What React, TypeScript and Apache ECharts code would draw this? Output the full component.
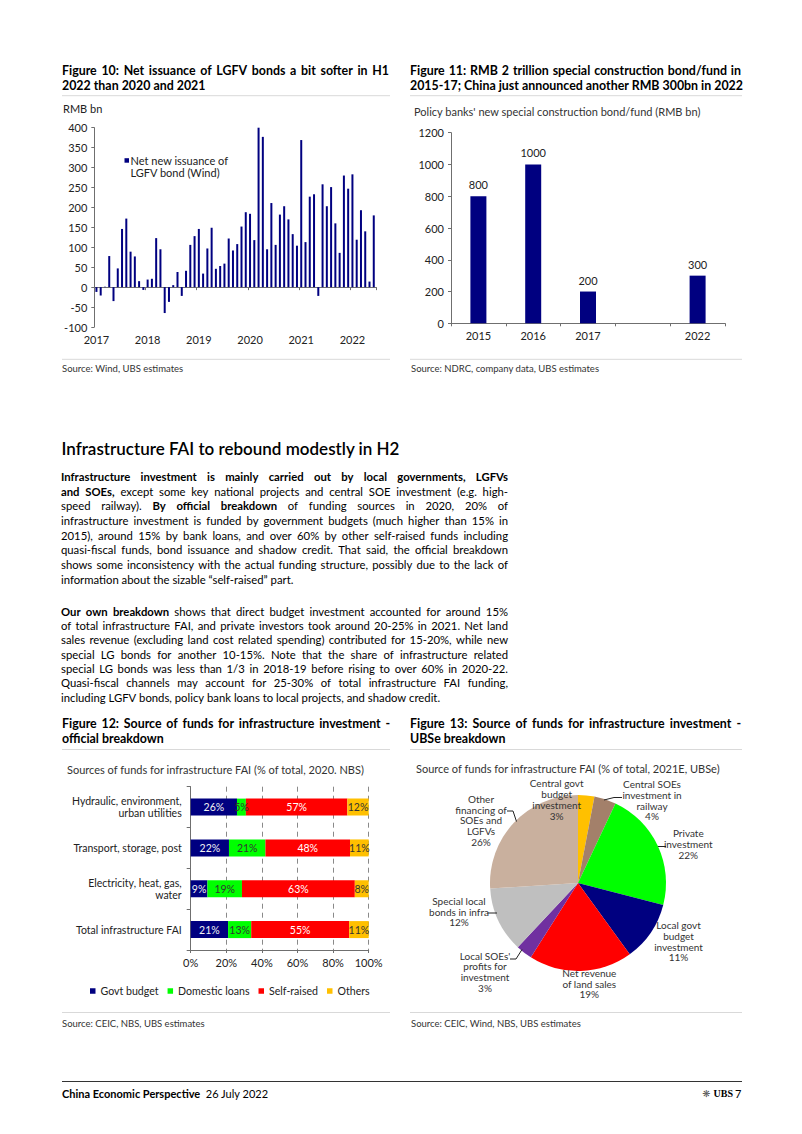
import React, { useEffect, useRef } from 'react';
import * as echarts from 'echarts';

const FONT = 'Lato, "Liberation Sans", sans-serif';
const NAVY = '#000080';
const AXIS = '#6f6f6f';
const LABEL = '#222';

// ---------- Figure 10: net issuance of LGFV bonds (RMB bn, monthly) ----------
const lgfvYears = ['2017', '2018', '2019', '2020', '2021', '2022'];
const monthCodes = ['01', '02', '03', '04', '05', '06', '07', '08', '09', '10', '11', '12'];
const lgfvMonths = lgfvYears.flatMap((y) => monthCodes.map((m) => `${y}-${m}`)).slice(0, 66);
const lgfvNetIssuance = [
  -12, -21, 1, 78, -35, 47, 146, 172, 89, 77, 15, -7,
  19, 21, 123, 95, -65, -37, 5, 38, -22, 41, 106, 128,
  146, 34, 97, 149, 46, 53, 59, 122, 92, 108, 152, 188,
  184, 118, 400, 377, 95, 211, 106, 182, 203, 170, 133, 104,
  369, 113, 227, 233, -22, 258, 203, 251, 160, 86, 280, 247,
  283, 119, 193, 140, 14, 180,
];
const lgfvSeriesName = 'Net new issuance of LGFV bond (Wind)';

// ---------- Figure 11: special construction bond/fund ----------
const specialYears = ['2015', '2016', '2017', '', '2022'];
const specialValues = [800, 1000, 200, null, 300];

// ---------- Figure 12: official breakdown ----------
const fundCategories = [
  'Hydraulic, environment,\nurban utilities',
  'Transport, storage, post',
  'Electricity, heat, gas,\nwater',
  'Total infrastructure FAI',
];
const govtBudget = [26, 21.5, 9.4, 21];
const domesticLoans = [5, 20.5, 19.4, 13];
const selfRaised = [57, 47.5, 63.4, 55];
const othersShare = [12, 10.5, 7.8, 11];
const fundSeriesNames = ['Govt budget', 'Domestic loans', 'Self-raised', 'Others'];
const fundColors = [NAVY, '#00FF00', '#FF0000', '#FFC000'];
const fundLabelColors = ['#f2f2f2', '#333', '#fff', '#333'];

// ---------- Figure 13: UBSe breakdown ----------
const pieNames = [
  'Central govt\nbudget\ninvestment',
  'Central SOEs\ninvestment in\nrailway',
  'Private\ninvestment',
  'Local govt\nbudget\ninvestment',
  'Net revenue\nof land sales',
  "Local SOEs'\nprofits for\ninvestment",
  'Special local\nbonds in infra',
  'Other\nfinancing of\nSOEs and\nLGFVs',
];
const pieValues = [3, 4, 22, 11, 19, 3, 12, 26];
const pieColors = ['#FFC000', '#A3806A', '#00FF00', NAVY, '#FF0000', '#7030A0', '#BFBFBF', '#C9B09E'];

// label placement (layout only)
const PIE_LABEL_XY = [
  [556.7, 799.5],
  [652, 800.3],
  [688.3, 844],
  [678.5, 941.2],
  [589.3, 983.5],
  [485, 971.8],
  [459, 911.7],
  [481, 820.3],
];
const PIE_LEADERS = [
  [[604, 800], [614, 797.5], [622, 797.5]],
  [[658, 846.5], [666, 846.5]],
  [[522, 949.5], [516, 959], [510, 959]],
  [[497, 913], [487.5, 913]],
  [[516.5, 821.5], [513, 811], [507, 811]],
];

// ---------- Text ----------
const para1Lines = [
  '{b|Infrastructure investment is mainly carried out by local governments, LGFVs}',
  '{b|and SOEs,} except some key national projects and central SOE investment (e.g. high-',
  'speed railway). {b|By official breakdown} of funding sources in 2020, 20% of',
  'infrastructure investment is funded by government budgets (much higher than 15% in',
  '2015), around 15% by bank loans, and over 60% by other self-raised funds including',
  'quasi-fiscal funds, bond issuance and shadow credit. That said, the official breakdown',
  'shows some inconsistency with the actual funding structure, possibly due to the lack of',
  'information about the sizable \u201cself-raised\u201d part.',
];
const para2Lines = [
  '{b|Our own breakdown} shows that direct budget investment accounted for around 15%',
  'of total infrastructure FAI, and private investors took around 20-25% in 2021. Net land',
  'sales revenue (excluding land cost related spending) contributed for 15-20%, while new',
  'special LG bonds for another 10-15%. Note that the share of infrastructure related',
  'special LG bonds was less than 1/3 in 2018-19 before rising to over 60% in 2020-22.',
  'Quasi-fiscal channels may account for 25-30% of total infrastructure FAI funding,',
  'including LGFV bonds, policy bank loans to local projects, and shadow credit.',
];

function txt(x: number, y: number, text: string, o: any = {}) {
  return {
    type: 'text',
    x,
    y,
    z: 20,
    silent: true,
    style: {
      text,
      fill: o.fill || '#000',
      fontSize: o.fontSize || 11,
      fontFamily: o.fontFamily || FONT,
      fontWeight: o.fontWeight || 'normal',
      align: o.align || 'left',
      verticalAlign: 'middle',
      rich: o.rich,
    },
  };
}
function hline(x1: number, x2: number, y: number, stroke = '#d9d9d9', w = 1) {
  return { type: 'line', z: 20, silent: true, shape: { x1, y1: y, x2, y2: y }, style: { stroke, lineWidth: w } };
}

type Seg = { t: string; b: boolean };
function parseRich(line: string, allBold = false): Seg[] {
  const out: Seg[] = [];
  const re = /\{b\|([^}]*)\}/g;
  let last = 0;
  let m: RegExpExecArray | null;
  while ((m = re.exec(line))) {
    if (m.index > last) out.push({ t: line.slice(last, m.index), b: allBold });
    out.push({ t: m[1], b: true });
    last = m.index + m[0].length;
  }
  if (last < line.length) out.push({ t: line.slice(last), b: allBold });
  return out;
}

let measureCtx: CanvasRenderingContext2D | null = null;
function measure(s: string, bold: boolean, size: number) {
  if (!measureCtx) measureCtx = document.createElement('canvas').getContext('2d');
  if (!measureCtx) return s.length * size * 0.45;
  measureCtx.font = `${bold ? 'bold' : 'normal'} ${size}px ${FONT}`;
  return measureCtx.measureText(s).width;
}

// lays out one line as words, justified to width when justify is true
function justifiedLine(line: string, x0: number, y: number, width: number, size: number, justify: boolean, allBold = false) {
  const segs = parseRich(line, allBold);
  const words: Seg[] = [];
  segs.forEach((s) => s.t.split(' ').forEach((w) => { if (w) words.push({ t: w, b: s.b }); }));
  const widths = words.map((w) => measure(w.t, w.b, size));
  const total = widths.reduce((a, b) => a + b, 0);
  const space = measure(' ', false, size);
  const gap = justify && words.length > 1 ? Math.max(space, (width - total) / (words.length - 1)) : space;
  const els: any[] = [];
  let x = x0;
  words.forEach((w, i) => {
    els.push(txt(x, y, w.t, { fontSize: size, fontWeight: w.b ? 'bold' : 'normal' }));
    x += widths[i] + gap;
  });
  return els;
}

export default function App() {
  const ref = useRef<HTMLDivElement>(null);

  useEffect(() => {
    if (!ref.current) return;
    const chart = echarts.init(ref.current, undefined, { renderer: 'svg' });

    const boldRich = { b: { fontWeight: 'bold', fontSize: 11, fontFamily: FONT, fill: '#000' } };
    const T = 12.4;

    const graphics: any[] = [
      // Figure titles (first lines justified)
      ...justifiedLine('Figure 10: Net issuance of LGFV bonds a bit softer in H1', 62, 70, 327, T, true, true),
      txt(62, 85.5, '2022 than 2020 and 2021', { fontWeight: 'bold', fontSize: T }),
      ...justifiedLine('Figure 11: RMB 2 trillion special construction bond/fund in', 410, 70, 331, T, true, true),
      txt(410, 85.5, '2015-17; China just announced another RMB 300bn in 2022', { fontWeight: 'bold', fontSize: T }),
      ...justifiedLine('Figure 12: Source of funds for infrastructure investment -', 62, 723, 328, T, true, true),
      txt(62, 738.5, 'official breakdown', { fontWeight: 'bold', fontSize: T }),
      ...justifiedLine('Figure 13: Source of funds for infrastructure investment -', 410, 723, 331, T, true, true),
      txt(410, 738.5, 'UBSe breakdown', { fontWeight: 'bold', fontSize: T }),
      hline(62, 390, 95.7),
      hline(410, 742, 95.7),
      hline(62, 390, 359.3),
      hline(410, 742, 359.3),
      hline(62, 390, 749.5),
      hline(410, 742, 749.5),
      hline(62, 390, 1012.5),
      hline(410, 742, 1012.5),
      // Subtitles / units
      txt(63, 108.3, 'RMB bn', { fontSize: 11, fill: LABEL }),
      txt(414, 111.7, "Policy banks' new special construction bond/fund (RMB bn)", { fontSize: 11, fill: '#333' }),
      txt(67, 769, 'Sources of funds for infrastructure FAI (% of total, 2020. NBS)', { fontSize: 11, fill: '#333' }),
      txt(416, 768.3, 'Source of funds for infrastructure FAI (% of total, 2021E, UBSe)', { fontSize: 11, fill: '#333' }),
      // Figure 10 legend
      {
        type: 'rect', z: 20, silent: true,
        shape: { x: 124.5, y: 158.2, width: 4.5, height: 4.5 },
        style: { fill: NAVY },
      },
      txt(130.5, 160.3, 'Net new issuance of', { fontSize: 11, fill: LABEL }),
      txt(130.5, 172.6, 'LGFV bond (Wind)', { fontSize: 11, fill: LABEL }),
      // Sources
      txt(62, 368.3, 'Source: Wind, UBS estimates', { fontSize: 9.5, fill: '#333' }),
      txt(411, 368.3, 'Source: NDRC, company data, UBS estimates', { fontSize: 9.5, fill: '#333' }),
      txt(62, 1023.3, 'Source: CEIC, NBS, UBS estimates', { fontSize: 9.5, fill: '#333' }),
      txt(411, 1023.3, 'Source: CEIC, Wind, NBS, UBS estimates', { fontSize: 9.5, fill: '#333' }),
      // Section heading
      txt(61.5, 448.5, 'Infrastructure FAI to rebound modestly in H2', { fontSize: 17, fontWeight: 600 }),
      // Footer
      hline(62, 742, 1081.5, '#333', 1),
      txt(62, 1093, '{b|China Economic Perspective}  26 July 2022', { fontSize: 11, rich: boldRich }),
      txt(710.5, 1093, '\u274B', { fontSize: 9.5, fill: '#555', align: 'right', fontFamily: '"DejaVu Sans"' }),
      txt(733, 1093, 'UBS', { fontSize: 10, fontWeight: 'bold', align: 'right', fontFamily: '"Liberation Serif", serif' }),
      txt(741.5, 1093, '7', { fontSize: 11, align: 'right' }),
    ];
    const BODY = 11.3;
    para1Lines.forEach((l, i) =>
      graphics.push(...justifiedLine(l, 61, 476.7 + i * 14.62, 447, BODY, i < para1Lines.length - 1))
    );
    para2Lines.forEach((l, i) =>
      graphics.push(...justifiedLine(l, 61, 611.3 + i * 14.33, 447, BODY, i < para2Lines.length - 1))
    );
    PIE_LEADERS.forEach((pts) =>
      graphics.push({
        type: 'polyline', z: 30, silent: true,
        shape: { points: pts },
        style: { stroke: '#222', lineWidth: 1, fill: null },
      })
    );

    const yearTick = (i: number) => i % 12 === 0;

    const option: any = {
      animation: false,
      backgroundColor: '#fff',
      textStyle: { fontFamily: FONT },
      grid: [
        { left: 94.3, top: 127.7, width: 281.6, height: 199.3 },
        { left: 451, top: 132.7, width: 274, height: 190.6 },
        { left: 190.7, top: 786.7, width: 178, height: 163.3 },
      ],
      xAxis: [
        {
          type: 'category', gridIndex: 0, data: lgfvMonths, position: 'bottom',
          axisLine: { show: false, onZero: false },
          axisTick: { show: false },
          splitLine: { show: false },
          axisLabel: {
            interval: yearTick, formatter: (v: string) => v.slice(0, 4),
            margin: 7, fontSize: 11, color: LABEL, fontFamily: FONT,
          },
        },
        {
          type: 'category', gridIndex: 0, data: lgfvMonths, position: 'bottom',
          axisLine: { show: true, onZero: true, lineStyle: { color: AXIS, width: 1 } },
          axisTick: { show: true, interval: yearTick, length: 3, lineStyle: { color: AXIS } },
          axisLabel: { show: false },
          splitLine: { show: false },
        },
        {
          type: 'category', gridIndex: 1, data: specialYears,
          axisLine: { show: true, lineStyle: { color: AXIS } },
          axisTick: { show: true, length: 3, lineStyle: { color: AXIS } },
          axisLabel: { margin: 7, fontSize: 11, color: LABEL, fontFamily: FONT, interval: 0 },
          splitLine: { show: false },
        },
        {
          type: 'value', gridIndex: 2, min: 0, max: 100, interval: 20,
          axisLine: { show: true, onZero: false, lineStyle: { color: AXIS } },
          axisTick: { show: true, length: 3, lineStyle: { color: AXIS } },
          axisLabel: { formatter: '{value}%', margin: 7, fontSize: 11, color: LABEL, fontFamily: FONT },
          splitLine: { show: true, lineStyle: { color: '#8a8a8a', type: [5, 4], width: 1 } },
        },
      ],
      yAxis: [
        {
          type: 'value', gridIndex: 0, min: -100, max: 400, interval: 50,
          axisLine: { show: true, onZero: false, lineStyle: { color: AXIS } },
          axisTick: { show: true, length: 3, lineStyle: { color: AXIS } },
          axisLabel: { margin: 7, fontSize: 11, color: LABEL, fontFamily: FONT, formatter: (v: number) => String(v) },
          splitLine: { show: false },
        },
        {
          type: 'value', gridIndex: 1, min: 0, max: 1200, interval: 200,
          axisLine: { show: true, onZero: false, lineStyle: { color: AXIS } },
          axisTick: { show: true, length: 3, lineStyle: { color: AXIS } },
          axisLabel: { margin: 7, fontSize: 11, color: LABEL, fontFamily: FONT, formatter: (v: number) => String(v) },
          splitLine: { show: false },
        },
        {
          type: 'category', gridIndex: 2, data: fundCategories, inverse: true,
          axisLine: { show: true, onZero: false, lineStyle: { color: AXIS } },
          axisTick: { show: true, length: 4, lineStyle: { color: AXIS } },
          axisLabel: { margin: 9, fontSize: 10.5, lineHeight: 12, color: LABEL, fontFamily: FONT, align: 'right' },
          splitLine: { show: false },
        },
      ],
      legend: [
        {
          data: fundSeriesNames,
          left: 85, top: 980.5,
          itemWidth: 5.5, itemHeight: 5.5, itemGap: 9,
          icon: 'rect',
          selectedMode: false,
          textStyle: { fontSize: 10.6, color: LABEL, fontFamily: FONT },
        },
      ],
      series: [
        {
          name: lgfvSeriesName, type: 'bar', xAxisIndex: 0, yAxisIndex: 0,
          data: lgfvNetIssuance, barWidth: 2, itemStyle: { color: NAVY },
        },
        {
          name: 'Special construction bond/fund', type: 'bar', xAxisIndex: 2, yAxisIndex: 1,
          data: specialValues, barWidth: 16, itemStyle: { color: NAVY },
          label: { show: true, position: 'top', distance: 6, fontSize: 11, color: LABEL, fontFamily: FONT },
        },
        ...[govtBudget, domesticLoans, selfRaised, othersShare].map((vals, k) => ({
          name: fundSeriesNames[k], type: 'bar', stack: 'fund', xAxisIndex: 3, yAxisIndex: 2,
          data: vals, barWidth: 17, itemStyle: { color: fundColors[k] },
          label: {
            show: true, position: 'inside', fontSize: 10.5, color: fundLabelColors[k], fontFamily: FONT,
            formatter: (p: any) => `${Math.round(p.value)}%`,
          },
        })),
        {
          name: 'UBSe breakdown', type: 'pie', center: [578, 883], radius: 88,
          startAngle: 90, clockwise: true, avoidLabelOverlap: false,
          data: pieNames.map((n, i) => ({ name: n, value: pieValues[i], itemStyle: { color: pieColors[i] } })),
          label: {
            show: true, position: 'outside', formatter: '{b}\n{c}%',
            fontSize: 10, lineHeight: 10.7, color: '#333', fontFamily: FONT, align: 'center',
          },
          labelLine: { show: false },
          labelLayout: (p: any) => ({
            x: PIE_LABEL_XY[p.dataIndex][0],
            y: PIE_LABEL_XY[p.dataIndex][1],
            align: 'center',
            verticalAlign: 'middle',
          }),
          emphasis: { disabled: true },
        },
      ],
      graphic: { elements: graphics },
    };

    chart.setOption(option);
    return () => chart.dispose();
  }, []);

  return (
    <div
      ref={ref}
      style={{ position: 'absolute', left: 0, top: 0, width: 802, height: 1134, background: '#fff' }}
    />
  );
}
